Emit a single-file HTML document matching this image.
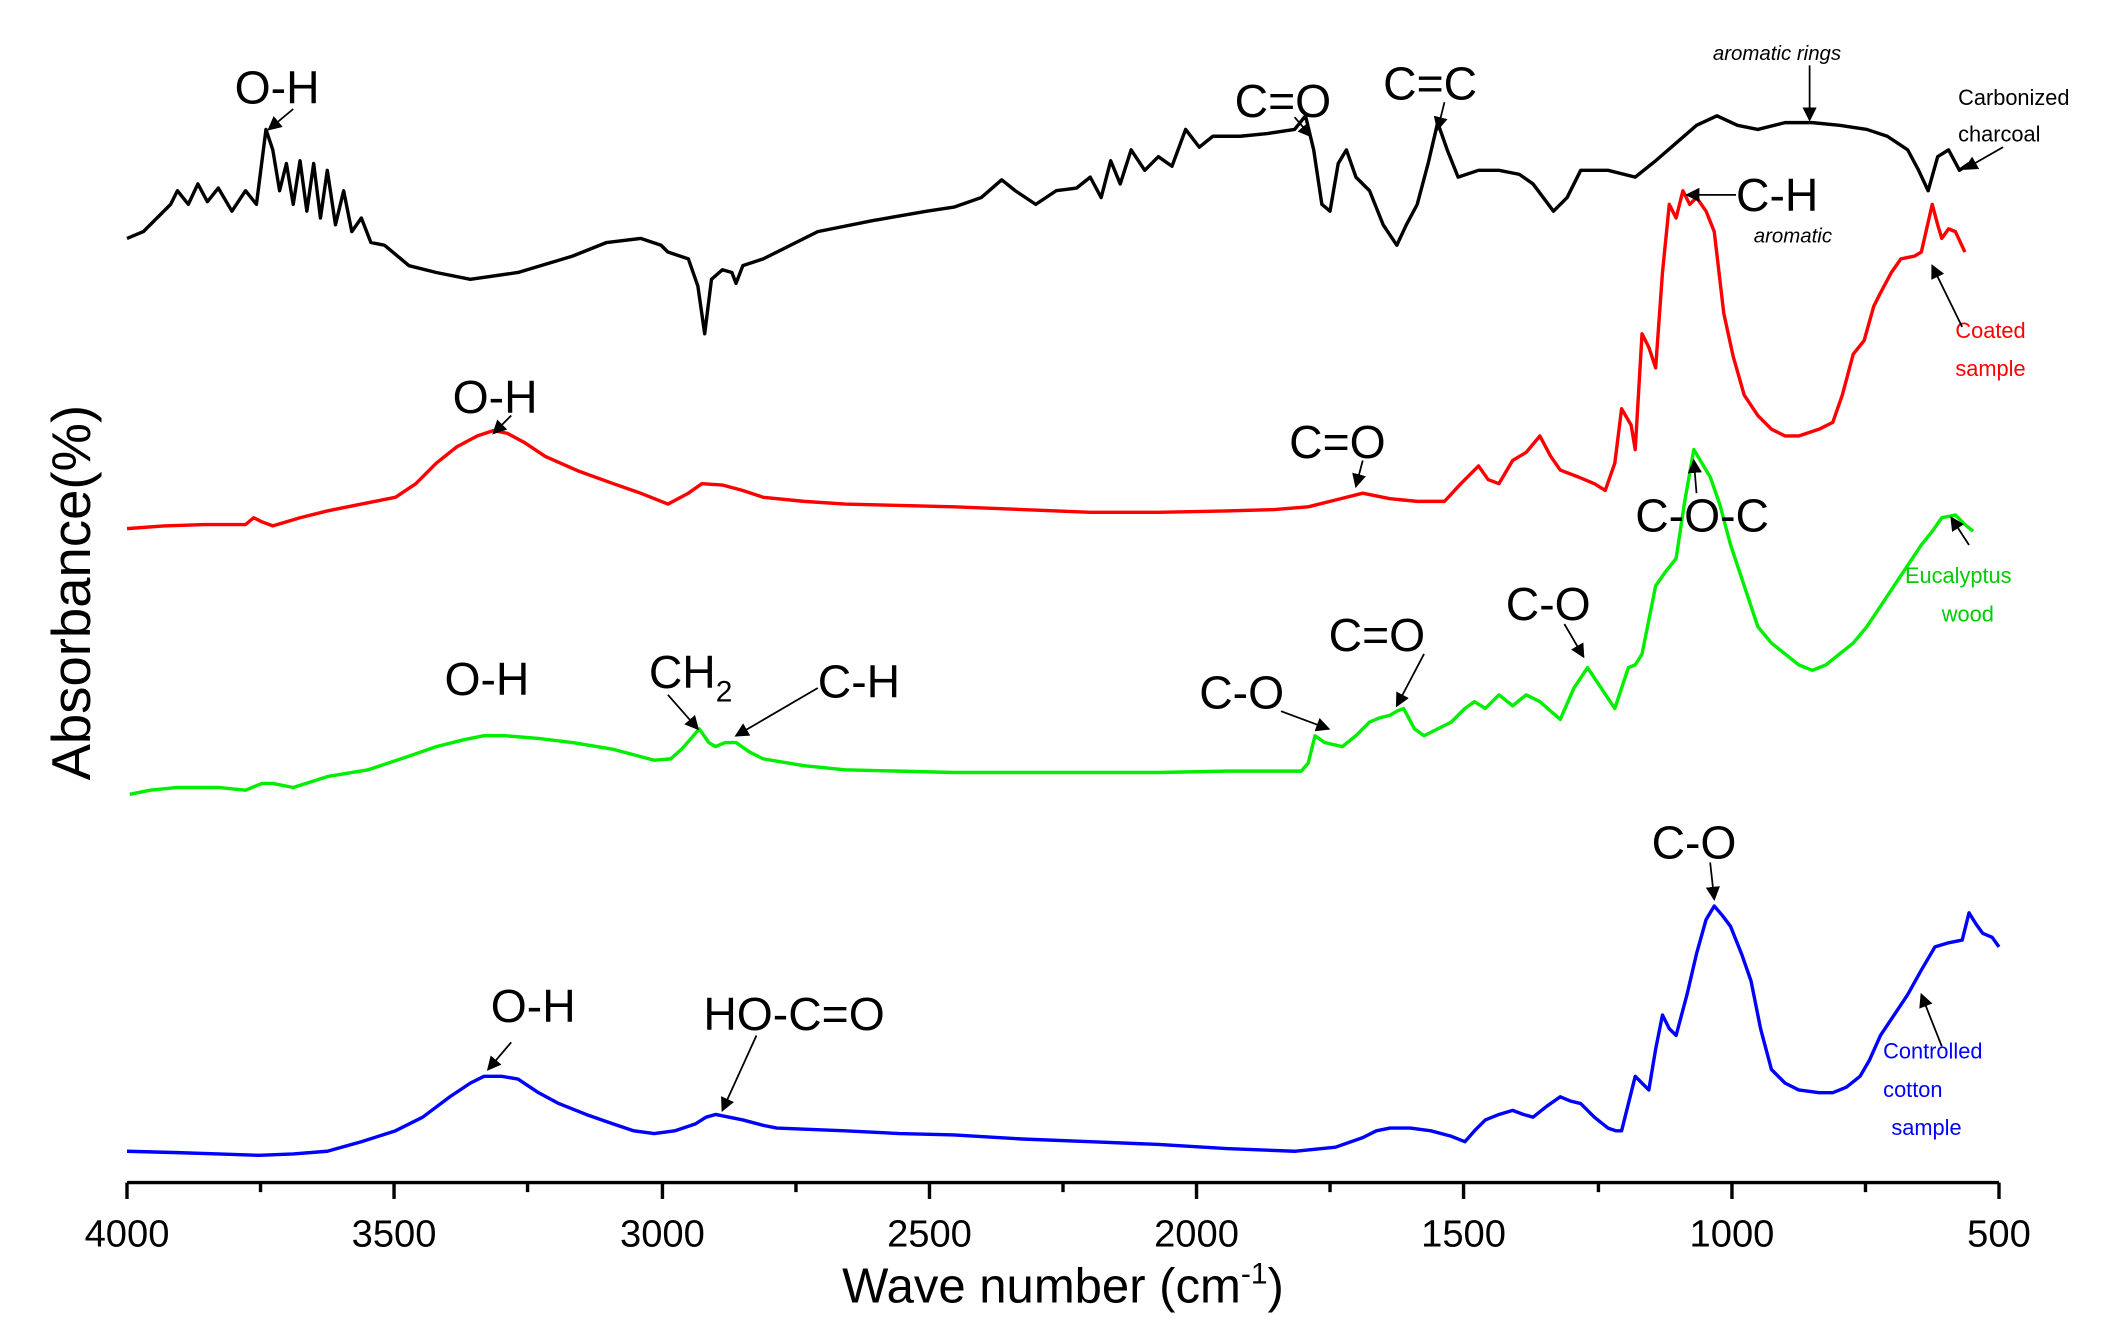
<!DOCTYPE html>
<html><head><meta charset="utf-8"><style>
html,body{margin:0;padding:0;background:#fff;}
svg{display:block;}
text{font-family:"Liberation Sans",sans-serif;}
</style></head><body>
<svg width="2126" height="1342" viewBox="0 0 1560 985" xmlns="http://www.w3.org/2000/svg">
<defs><marker id="a" markerWidth="8" markerHeight="8" refX="7" refY="4" orient="auto"><path d="M0,0 L8,4 L0,8 z" fill="#000"/></marker></defs>
<rect width="1560" height="985" fill="#fff"/>
<g fill="none" stroke-width="2.5" stroke-linejoin="round">
<polyline stroke="#000" points="93,175 105,170 115,160 125,150 130,140 138,150 145,135 152,148 160,138 170,155 180,140 188,150 195,95 200,110 205,140 210,120 215,150 220,118 225,155 230,120 235,160 240,125 246,165 252,140 258,170 265,160 272,178 282,180 300,195 320,200 345,205 380,200 420,188 445,178 470,175 485,180 490,185 505,190 512,210 517,245 522,205 530,198 537,200 540,208 545,195 560,190 580,180 600,170 640,162 680,155 700,152 720,145 735,132 745,140 760,150 775,140 790,138 800,130 808,145 815,118 822,135 830,110 840,125 850,115 860,122 870,95 880,108 890,100 910,100 930,98 950,95 958,85 964,110 970,150 976,155 982,120 988,110 995,130 1005,140 1015,165 1025,180 1032,165 1040,150 1048,120 1055,90 1062,110 1070,130 1085,125 1100,125 1115,128 1125,135 1140,155 1150,145 1160,125 1180,125 1200,130 1215,118 1230,105 1245,92 1260,85 1275,92 1290,95 1310,90 1330,90 1350,92 1370,95 1385,100 1400,110 1408,125 1415,140 1422,115 1430,110 1438,125 1445,120"/>
<polyline stroke="#f00" points="93,388 120,386 150,385 180,385 186,380 192,383 200,386 220,380 240,375 265,370 290,365 305,355 320,340 335,328 350,320 362,316 372,318 385,325 400,335 425,346 450,355 470,362 490,370 505,362 515,355 530,356 545,360 560,365 590,368 620,370 660,371 700,372 750,374 800,376 850,376 900,375 935,374 960,372 980,367 1000,362 1020,366 1040,368 1060,368 1072,355 1085,342 1092,352 1100,355 1110,338 1120,332 1130,320 1138,335 1145,345 1158,350 1170,355 1178,360 1185,340 1190,300 1197,312 1200,330 1205,245 1210,255 1215,270 1220,200 1225,150 1230,160 1235,140 1240,150 1245,145 1252,155 1258,170 1265,230 1272,262 1280,290 1290,305 1300,315 1310,320 1320,320 1335,315 1345,310 1352,290 1360,260 1368,250 1375,225 1380,215 1388,200 1395,190 1405,188 1410,185 1418,150 1422,165 1425,175 1430,168 1435,170 1442,185"/>
<polyline stroke="#0e0" points="95,583 110,580 130,578 160,578 180,580 192,575 200,575 215,578 240,570 270,565 300,555 320,548 340,543 355,540 370,540 395,542 420,545 450,550 480,558 492,557 500,550 507,542 513,535 520,545 525,548 532,545 540,545 550,552 560,557 590,562 620,565 660,566 700,567 750,567 800,567 850,567 900,566 930,566 955,566 960,560 965,540 972,545 985,548 995,540 1005,530 1012,527 1020,525 1025,522 1030,520 1038,535 1045,540 1055,535 1065,530 1075,520 1082,515 1090,520 1100,510 1110,518 1120,510 1130,515 1138,522 1145,528 1155,505 1165,490 1175,505 1185,520 1190,505 1195,490 1200,488 1205,480 1210,455 1215,430 1222,420 1230,410 1236,370 1243,330 1249,340 1255,350 1262,370 1270,400 1280,430 1290,460 1300,472 1310,480 1320,488 1330,492 1340,488 1350,480 1360,472 1370,460 1380,445 1390,430 1400,415 1410,400 1418,390 1425,380 1435,378 1442,385 1448,390"/>
<polyline stroke="#00f" points="93,845 130,846 160,847 190,848 215,847 240,845 265,838 290,830 310,820 330,805 345,795 355,790 368,790 380,792 395,802 410,810 430,818 450,825 465,830 480,832 495,830 510,825 518,820 525,818 535,820 545,822 560,826 570,828 620,830 660,832 700,833 750,836 800,838 850,840 900,843 950,845 980,842 1000,835 1010,830 1020,828 1035,828 1050,830 1065,834 1075,838 1082,830 1090,822 1100,818 1110,815 1118,818 1125,820 1135,812 1145,805 1152,808 1160,810 1170,820 1180,828 1186,830 1190,830 1195,810 1200,790 1205,795 1210,800 1215,770 1220,745 1225,755 1230,760 1238,730 1245,700 1252,675 1258,665 1264,672 1270,680 1278,700 1285,720 1292,755 1300,785 1310,795 1320,800 1335,802 1345,802 1355,798 1365,790 1372,778 1380,760 1390,745 1400,730 1410,712 1420,695 1430,692 1440,690 1445,670 1450,678 1455,685 1462,688 1467,695"/>
</g>
<g stroke="#000" stroke-width="2.5">
<line x1="93" y1="868" x2="1467" y2="868"/>
<line x1="93" y1="868" x2="93" y2="880"/><line x1="289" y1="868" x2="289" y2="880"/><line x1="486" y1="868" x2="486" y2="880"/><line x1="682" y1="868" x2="682" y2="880"/><line x1="878" y1="868" x2="878" y2="880"/><line x1="1074" y1="868" x2="1074" y2="880"/><line x1="1271" y1="868" x2="1271" y2="880"/><line x1="1467" y1="868" x2="1467" y2="880"/>
<line x1="191" y1="868" x2="191" y2="875"/><line x1="387" y1="868" x2="387" y2="875"/><line x1="584" y1="868" x2="584" y2="875"/><line x1="780" y1="868" x2="780" y2="875"/><line x1="976" y1="868" x2="976" y2="875"/><line x1="1173" y1="868" x2="1173" y2="875"/><line x1="1369" y1="868" x2="1369" y2="875"/>
</g>
<g font-size="28" text-anchor="middle" fill="#000">
<text x="93" y="915">4000</text><text x="289" y="915">3500</text><text x="486" y="915">3000</text><text x="682" y="915">2500</text><text x="878" y="915">2000</text><text x="1074" y="915">1500</text><text x="1271" y="915">1000</text><text x="1467" y="915">500</text>
</g>
<text x="780" y="956" font-size="36" text-anchor="middle">Wave number (cm<tspan dy="-14" font-size="22">-1</tspan><tspan dy="14">)</tspan></text>
<text transform="translate(66,435) rotate(-90)" font-size="40" text-anchor="middle">Absorbance(%)</text>
<g font-size="34" fill="#000">
<text x="172" y="76">O-H</text>
<text x="906" y="86">C=O</text>
<text x="1015" y="73">C=C</text>
<text x="1274" y="155">C-H</text>
<text x="332" y="303">O-H</text>
<text x="946" y="336">C=O</text>
<text x="1200" y="390">C-O-C</text>
<text x="326" y="510">O-H</text>
<text x="476" y="505">CH<tspan dy="10" font-size="22">2</tspan></text>
<text x="600" y="512">C-H</text>
<text x="880" y="520">C-O</text>
<text x="975" y="478">C=O</text>
<text x="1105" y="455">C-O</text>
<text x="1212" y="630">C-O</text>
<text x="360" y="750">O-H</text>
<text x="516" y="756">HO-C=O</text>
</g>
<g font-size="15" font-style="italic"><text x="1257" y="44">aromatic rings</text><text x="1287" y="178">aromatic</text></g>
<g font-size="16">
<text x="1437" y="77">Carbonized</text><text x="1437" y="104">charcoal</text>
<text x="1435" y="248" fill="#f00">Coated</text><text x="1435" y="276" fill="#f00">sample</text>
<text x="1398" y="428" fill="#0c0">Eucalyptus</text><text x="1425" y="456" fill="#0c0">wood</text>
<text x="1382" y="777" fill="#00f">Controlled</text><text x="1382" y="805" fill="#00f">cotton</text><text x="1388" y="833" fill="#00f">sample</text>
</g>
<g stroke="#000" stroke-width="1.3" marker-end="url(#a)">
<line x1="215" y1="80" x2="197" y2="95"/>
<line x1="950" y1="86" x2="962" y2="100"/>
<line x1="1060" y1="75" x2="1055" y2="95"/>
<line x1="1328" y1="48" x2="1328" y2="88"/>
<line x1="1274" y1="143" x2="1238" y2="143"/>
<line x1="1470" y1="108" x2="1442" y2="124"/>
<line x1="1440" y1="240" x2="1418" y2="195"/>
<line x1="375" y1="305" x2="362" y2="318"/>
<line x1="1000" y1="338" x2="995" y2="357"/>
<line x1="1245" y1="362" x2="1243" y2="338"/>
<line x1="1445" y1="400" x2="1432" y2="380"/>
<line x1="490" y1="510" x2="512" y2="535"/>
<line x1="600" y1="505" x2="540" y2="540"/>
<line x1="940" y1="522" x2="975" y2="535"/>
<line x1="1045" y1="480" x2="1025" y2="518"/>
<line x1="1148" y1="458" x2="1162" y2="482"/>
<line x1="1255" y1="633" x2="1258" y2="660"/>
<line x1="375" y1="765" x2="358" y2="785"/>
<line x1="555" y1="760" x2="530" y2="815"/>
<line x1="1425" y1="768" x2="1410" y2="730"/>
</g>
</svg>
</body></html>
